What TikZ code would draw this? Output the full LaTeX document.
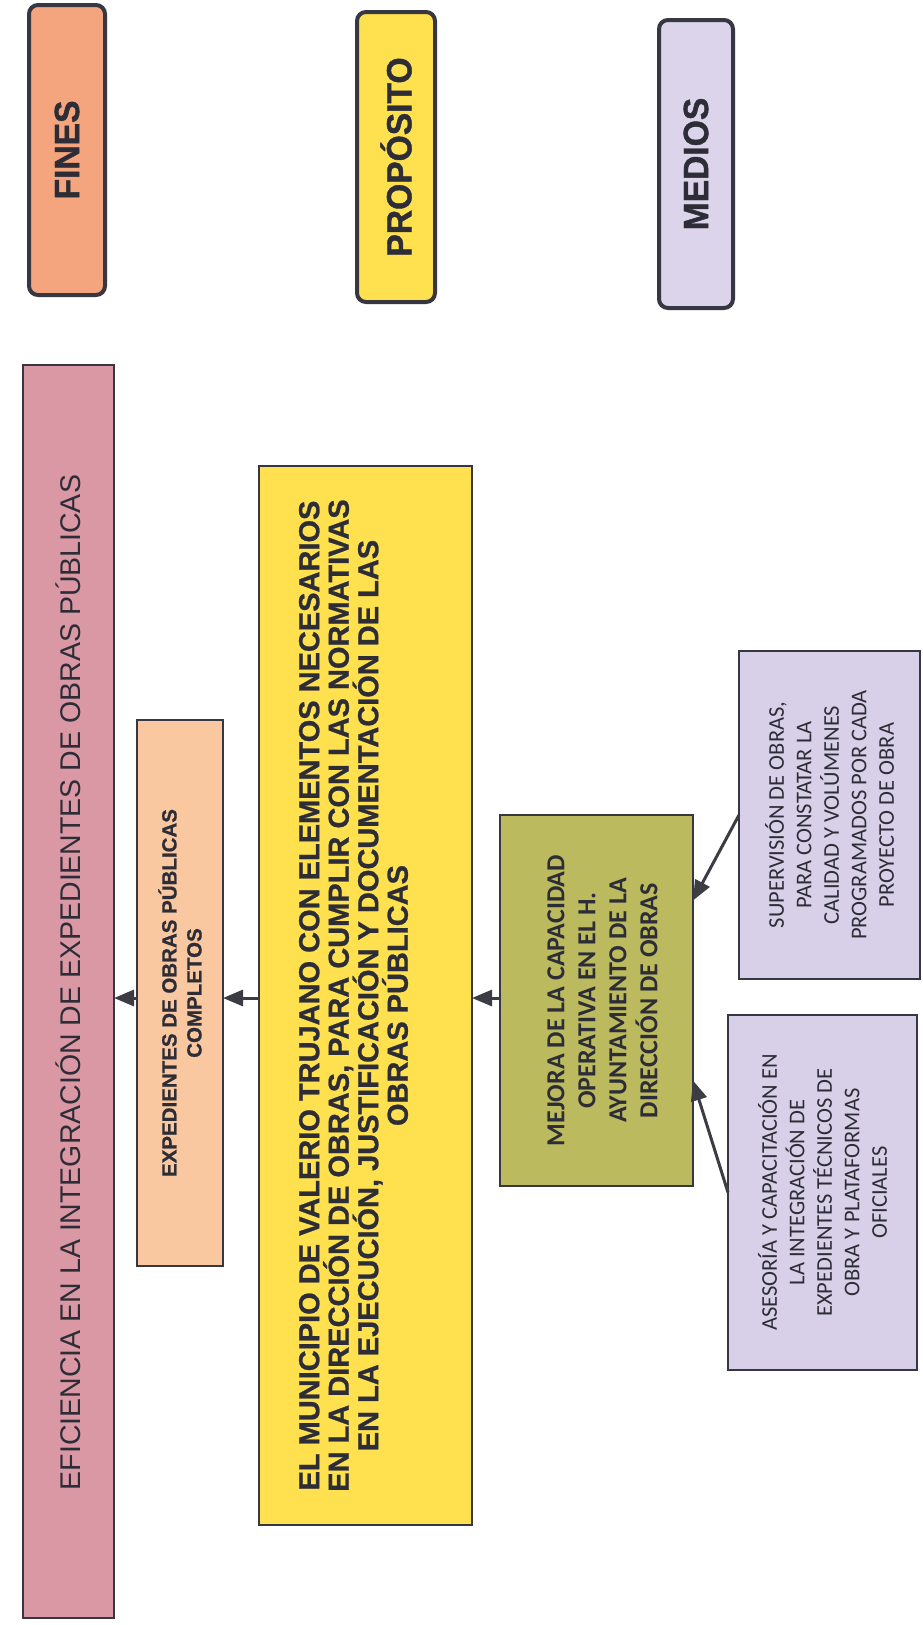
\documentclass[tikz,border=0pt]{standalone}
\usepackage{fontspec}
\usepackage{graphicx}
\setmainfont{Liberation Sans}
\newfontfamily\calibri{Carlito}
\newfontfamily\headfont[FakeStretch=0.96,FakeBold=1.2]{Liberation Sans}
\newfontfamily\heavyfont[FakeBold=0.8]{Liberation Sans}
\usetikzlibrary{arrows.meta}
\definecolor{bordc}{RGB}{55,55,65}
\definecolor{txtc}{RGB}{45,45,55}
\definecolor{arrc}{RGB}{60,60,68}
\definecolor{finc}{RGB}{245,165,125}
\definecolor{propc}{RGB}{255,225,80}
\definecolor{medc}{RGB}{220,212,235}
\definecolor{pinkc}{RGB}{218,152,165}
\definecolor{peachc}{RGB}{250,200,160}
\definecolor{yelc}{RGB}{255,224,78}
\definecolor{olivec}{RGB}{188,186,94}
\definecolor{lavc}{RGB}{215,208,232}
% rotated, centred block of lines; #1 = shift to the left, #2 = width, #3 = font and lines
\newcommand\rlines[3]{\rotatebox{90}{\raisebox{#1}[\height][\depth]{\parbox{#2}{\centering\lineskiplimit=-100pt\lineskip=0pt #3\par}}}}
\begin{document}
\begin{tikzpicture}[x=1pt,y=-1pt,
  every node/.style={inner sep=0pt, outer sep=0pt},
  hdr/.style={draw=bordc, line width=4pt, rounded corners=9pt, text=txtc},
  bx/.style={draw=bordc, line width=2.5pt, text=txtc},
  arr/.style={draw=arrc, line width=3pt, -{Triangle[length=20pt,width=16pt]}}]
\useasboundingbox (0,0) rectangle (922,1625);
\fill[white] (0,0) rectangle (922,1625);
% headers
\node[hdr, fill=finc, minimum width=76pt, minimum height=290pt] (fines) at (67,150)
  {\rotatebox{90}{\headfont\bfseries\fontsize{35}{38}\selectfont FINES}};
\node[hdr, fill=propc, minimum width=78pt, minimum height=290pt] (prop) at (396,157)
  {\rotatebox{90}{\headfont\bfseries\fontsize{35}{38}\selectfont PROPÓSITO}};
\node[hdr, fill=medc, minimum width=74pt, minimum height=288pt] (med) at (696,164)
  {\rotatebox{90}{\headfont\bfseries\fontsize{35}{38}\selectfont MEDIOS}};
% main boxes
\node[bx, fill=pinkc, minimum width=91pt, minimum height=1253pt] (pink) at (68.5,991.5)
  {\rotatebox{90}{\hspace*{18pt}\fontsize{28.5}{32}\selectfont EFICIENCIA EN LA INTEGRACIÓN DE EXPEDIENTES DE OBRAS PÚBLICAS}};
\node[bx, fill=peachc, minimum width=86pt, minimum height=546pt] (peach) at (180,993)
  {\rlines{0pt}{500pt}{\heavyfont\bfseries\fontsize{20.5}{25}\selectfont EXPEDIENTES DE OBRAS PÚBLICAS\\COMPLETOS}};
\node[bx, fill=yelc, minimum width=213pt, minimum height=1059pt] (yellow) at (365.5,995.5)
  {\rlines{12pt}{1040pt}{\heavyfont\bfseries\fontsize{29}{29.5}\selectfont EL MUNICIPIO DE VALERIO TRUJANO CON ELEMENTOS NECESARIOS\\EN LA DIRECCIÓN DE OBRAS, PARA CUMPLIR CON LAS NORMATIVAS\\EN LA EJECUCIÓN, JUSTIFICACIÓN Y DOCUMENTACIÓN DE LAS\\OBRAS PÚBLICAS}};
\node[bx, fill=olivec, minimum width=193pt, minimum height=371pt] (olive) at (596.5,1000.5)
  {\rlines{-6pt}{350pt}{\calibri\bfseries\fontsize{26}{31}\selectfont MEJORA DE LA CAPACIDAD\\OPERATIVA EN EL H.\\AYUNTAMIENTO DE LA\\DIRECCIÓN DE OBRAS}};
\node[bx, fill=lavc, minimum width=181pt, minimum height=328pt] (lav1) at (829.5,815)
  {\rlines{0pt}{310pt}{\calibri\fontsize{22.5}{27.5}\selectfont SUPERVISIÓN DE OBRAS,\\PARA CONSTATAR LA\\CALIDAD Y VOLÚMENES\\PROGRAMADOS POR CADA\\PROYECTO DE OBRA}};
\node[bx, fill=lavc, minimum width=189pt, minimum height=355pt] (lav2) at (822.5,1192.5)
  {\rlines{0pt}{335pt}{\calibri\fontsize{22.5}{27.5}\selectfont ASESORÍA Y CAPACITACIÓN EN\\LA INTEGRACIÓN DE\\EXPEDIENTES TÉCNICOS DE\\OBRA Y PLATAFORMAS\\OFICIALES}};
% connectors
\coordinate (ay) at (0,998);
\draw[arr] (peach.west |- ay) -- (pink.east |- ay);
\draw[arr] (yellow.west |- ay) -- (peach.east |- ay);
\draw[arr] (olive.west |- ay) -- (yellow.east |- ay);
\draw[arr] (lav1.west) -- ([yshift=100pt]olive.east);
\draw[arr] (lav2.west) -- ([yshift=-80pt]olive.east);
\end{tikzpicture}
\end{document}
